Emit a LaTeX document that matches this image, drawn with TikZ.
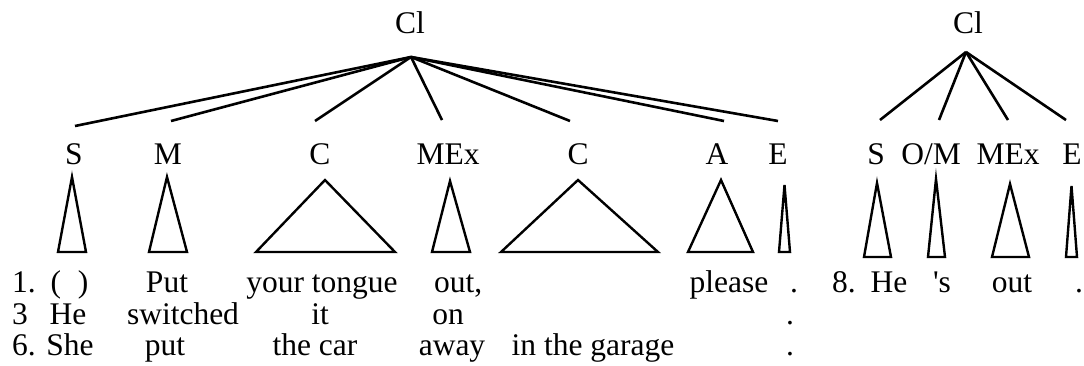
\documentclass[tikz,border=0pt]{standalone}
\usepackage{fontspec}
\setmainfont{Liberation Serif}
\begin{document}
\begin{tikzpicture}[x=1pt,y=-1pt,
  every node/.style={inner sep=0pt,font=\fontsize{31.5}{32}\selectfont},
  lbl/.style={anchor=base},
  wrd/.style={anchor=base},
  wrdl/.style={anchor=base west},
  branch/.style={line width=2.6pt},
  tri/.style={line width=2.4pt}]
\path[use as bounding box] (0,0) rectangle (1084,365);

% ---------- left clause ----------
\node[lbl] (cl1) at (410,33) {Cl};
\coordinate (r1) at (411,57);
\node[lbl] (s1)   at (74,164)  {S};
\node[lbl] (m1)   at (168,164) {M};
\node[lbl] (c1)   at (320,164) {C};
\node[lbl] (mex1) at (448,164) {MEx};
\node[lbl] (c2)   at (578,164) {C};
\node[lbl] (a1)   at (717,164) {A};
\node[lbl] (e1)   at (778,164) {E};
\coordinate (ts1)   at (75,126);
\coordinate (tm1)   at (171,121);
\coordinate (tc1)   at (315,121);
\coordinate (tmex1) at (442,120);
\coordinate (tc2)   at (570,121);
\coordinate (ta1)   at (724,121);
\coordinate (te1)   at (778,121);
\foreach \t in {ts1,tm1,tc1,tmex1,tc2,ta1,te1}
  \draw[branch] (r1) -- (\t);

% constituent triangles
\draw[tri] (58,252)  -- (72,177)  -- (86,252)  -- cycle;
\draw[tri] (149,252) -- (167,177) -- (187,252) -- cycle;
\draw[tri] (256,252) -- (325,180) -- (395,252) -- cycle;
\draw[tri] (432,252) -- (450,181) -- (470,252) -- cycle;
\draw[tri] (501,252) -- (578,180) -- (658,252) -- cycle;
\draw[tri] (688,252) -- (721,180) -- (753,252) -- cycle;
\draw[tri] (779,252) -- (784.5,185) -- (790,252) -- cycle;

% ---------- right clause ----------
\node[lbl] (cl2) at (968,33) {Cl};
\coordinate (r2) at (966,52);
\node[lbl] (s2)   at (876,164)  {S};
\node[lbl] (om2)  at (931,164)  {O/M};
\node[lbl] (mex2) at (1008,164) {MEx};
\node[lbl] (e2)   at (1072,164) {E};
\coordinate (ts2)   at (880,120);
\coordinate (tom2)  at (939,120);
\coordinate (tmex2) at (1008,120);
\coordinate (te2)   at (1066,120);
\foreach \t in {ts2,tom2,tmex2,te2}
  \draw[branch] (r2) -- (\t);

\draw[tri] (864,257)  -- (877,183)  -- (891,257)  -- cycle;
\draw[tri] (928,257)  -- (936,179)  -- (945,257)  -- cycle;
\draw[tri] (992,257)  -- (1010,184) -- (1029,257) -- cycle;
\draw[tri] (1066,257) -- (1071.5,186) -- (1077,257) -- cycle;

% ---------- example sentences ----------
% 1.
\node[wrdl] (n1)  at (12,292)   {1.};
\node[wrd]  (p1)  at (69.5,292) {(\hspace{17pt})};
\node[wrd]  (w1a) at (167,292)  {Put};
\node[wrd]  (w1b) at (322,292)  {your tongue};
\node[wrdl] (w1c) at (434,292)  {out,};
\node[wrd]  (w1d) at (729,292)  {please};
\node[wrd]  (w1e) at (794,292)  {.};
% 8.
\node[wrdl] (n8)  at (832,292)  {8.};
\node[wrd]  (w8a) at (889,292)  {He};
\node[wrd]  (w8b) at (942,292)  {\textquotesingle s};
\node[wrd]  (w8c) at (1012,292) {out};
\node[wrd]  (w8d) at (1079,292) {.};
% 3
\node[wrdl] (n3)  at (12,324)   {3};
\node[wrd]  (w3a) at (68,324)   {He};
\node[wrd]  (w3b) at (183,324)  {switched};
\node[wrd]  (w3c) at (320,324)  {it};
\node[wrd]  (w3d) at (448,324)  {on};
\node[wrd]  (w3e) at (790,324)  {.};
% 6.
\node[wrdl] (n6)  at (12,355)   {6. She};
\node[wrd]  (w6a) at (165,355)  {put};
\node[wrd]  (w6b) at (315,355)  {the car};
\node[wrd]  (w6c) at (452,355)  {away};
\node[wrd]  (w6d) at (593,355)  {in the garage};
\node[wrd]  (w6e) at (790,355)  {.};
\end{tikzpicture}
\end{document}
